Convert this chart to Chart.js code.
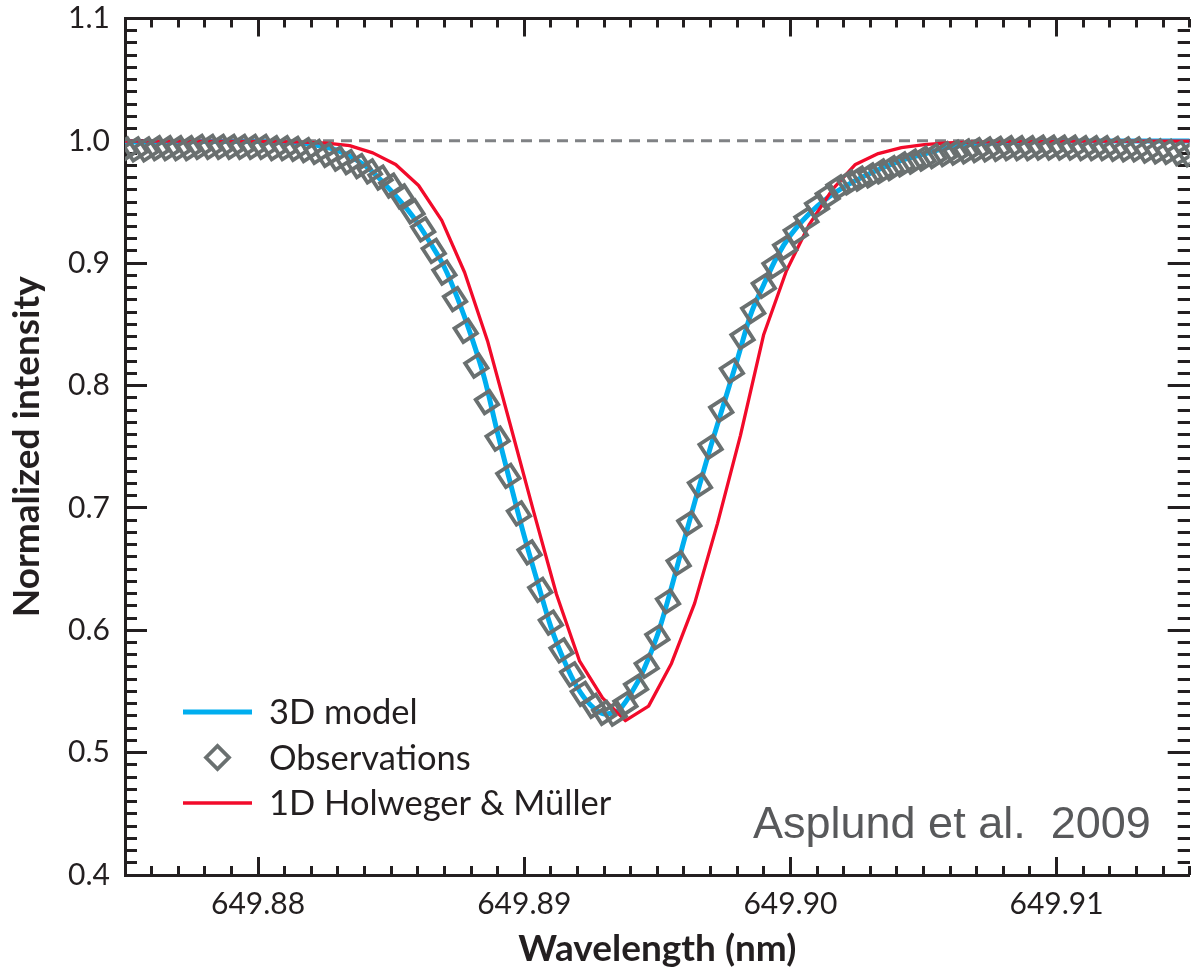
<!DOCTYPE html>
<html>
<head>
<meta charset="utf-8">
<title>Fe I 649.9 nm line profile</title>
<script src="https://cdn.jsdelivr.net/npm/chart.js@4.4.1/dist/chart.umd.min.js"></script>
<style>
  html, body { margin: 0; padding: 0; background: #ffffff; overflow: hidden; }
  canvas { display: block; }
</style>
</head>
<body>
<canvas id="lineChart" width="1205" height="968"></canvas>
<script>
// observed profile (diamonds), one point every 0.4 pm
const obsWavelength = [
    649.8750, 649.8754, 649.8758, 649.8762, 649.8766, 649.8770, 649.8774, 649.8778, 649.8782, 649.8786,
    649.8790, 649.8794, 649.8798, 649.8802, 649.8806, 649.8810, 649.8814, 649.8818, 649.8822, 649.8826,
    649.8830, 649.8834, 649.8838, 649.8842, 649.8846, 649.8850, 649.8854, 649.8858, 649.8862, 649.8866,
    649.8870, 649.8874, 649.8878, 649.8882, 649.8886, 649.8890, 649.8894, 649.8898, 649.8902, 649.8906,
    649.8910, 649.8914, 649.8918, 649.8922, 649.8926, 649.8930, 649.8934, 649.8938, 649.8942, 649.8946,
    649.8950, 649.8954, 649.8958, 649.8962, 649.8966, 649.8970, 649.8974, 649.8978, 649.8982, 649.8986,
    649.8990, 649.8994, 649.8998, 649.9002, 649.9006, 649.9010, 649.9014, 649.9018, 649.9022, 649.9026,
    649.9030, 649.9034, 649.9038, 649.9042, 649.9046, 649.9050, 649.9054, 649.9058, 649.9062, 649.9066,
    649.9070, 649.9074, 649.9078, 649.9082, 649.9086, 649.9090, 649.9094, 649.9098, 649.9102, 649.9106,
    649.9110, 649.9114, 649.9118, 649.9122, 649.9126, 649.9130, 649.9134, 649.9138, 649.9142, 649.9146,
    649.9150
];
const obsIntensity = [
    0.993, 0.993, 0.993, 0.994, 0.994, 0.994, 0.994, 0.995, 0.995, 0.995,
    0.995, 0.995, 0.995, 0.995, 0.994, 0.994, 0.9935, 0.9925, 0.991, 0.9885,
    0.9855, 0.9827, 0.9794, 0.975, 0.970, 0.9635, 0.9546, 0.9424, 0.9277, 0.910,
    0.8924, 0.8707, 0.8448, 0.8163, 0.7865, 0.7566, 0.7262, 0.6955, 0.6637, 0.633,
    0.6063, 0.5835, 0.564, 0.548, 0.5383, 0.5326, 0.5318, 0.5399, 0.5538, 0.5709,
    0.5945, 0.6236, 0.6548, 0.6874, 0.7186, 0.7499, 0.7802, 0.812, 0.8395, 0.8611,
    0.8815, 0.8978, 0.9128, 0.925, 0.9358, 0.9467, 0.9548, 0.9619, 0.966, 0.9692,
    0.9717, 0.975, 0.9778, 0.9807, 0.9831, 0.9855, 0.9876, 0.9892, 0.9904, 0.9915,
    0.9925, 0.993, 0.9935, 0.994, 0.994, 0.994, 0.9945, 0.9945, 0.9945, 0.9945,
    0.994, 0.994, 0.994, 0.9935, 0.993, 0.993, 0.992, 0.9915, 0.991, 0.990,
    0.989
];

// 3D model
const modelWavelength = [
    649.8750, 649.8780, 649.8800, 649.8810, 649.8820, 649.8830, 649.8840, 649.8845, 649.8850, 649.8855,
    649.8860, 649.8865, 649.8870, 649.8875, 649.8880, 649.8885, 649.8890, 649.8895, 649.8900, 649.8905,
    649.8910, 649.8915, 649.8920, 649.8925, 649.8930, 649.8935, 649.8940, 649.8945, 649.8950, 649.8955,
    649.8960, 649.8965, 649.8970, 649.8975, 649.8980, 649.8985, 649.8990, 649.8995, 649.9000, 649.9010,
    649.9020, 649.9030, 649.9040, 649.9050, 649.9060, 649.9080, 649.9100, 649.9120, 649.9150
];
const modelIntensity = [
    0.9990, 0.9994, 0.9994, 0.9988, 0.9972, 0.9920, 0.9800, 0.9705, 0.9591, 0.9468,
    0.9326, 0.9155, 0.8967, 0.8710, 0.8409, 0.8063, 0.7610, 0.7185, 0.6769, 0.6393,
    0.6028, 0.5751, 0.5530, 0.5387, 0.5316, 0.5339, 0.5479, 0.5684, 0.5959, 0.6326,
    0.6730, 0.7123, 0.7499, 0.7853, 0.8210, 0.8576, 0.8826, 0.9055, 0.9228, 0.9464,
    0.9621, 0.9736, 0.9827, 0.9891, 0.9949, 0.9987, 0.9996, 0.9998, 0.9998
];

// 1D Holweger & Mueller model (coarse grid, straight segments)
const hmWavelength = [
    649.8750, 649.8774, 649.8800, 649.88085, 649.88172, 649.88258, 649.88344, 649.88431, 649.88517, 649.88603,
    649.88690, 649.88776, 649.88862, 649.88949, 649.89035, 649.89121, 649.89208, 649.89294, 649.89380, 649.89467,
    649.89553, 649.89640, 649.89726, 649.89812, 649.89899, 649.89985, 649.90071, 649.90158, 649.90244, 649.90330,
    649.90417, 649.90503, 649.90589, 649.90676, 649.90849, 649.91108, 649.9150
];
const hmIntensity = [
    0.9998, 0.9998, 0.9996, 0.9994, 0.9990, 0.9982, 0.9961, 0.9902, 0.9807, 0.9635,
    0.9350, 0.8924, 0.8365, 0.7668, 0.6972, 0.6295, 0.5747, 0.5448, 0.5261, 0.5380,
    0.5729, 0.6220, 0.6874, 0.7591, 0.8413, 0.8939, 0.9318, 0.9603, 0.9807, 0.9896,
    0.9945, 0.9969, 0.9983, 0.9990, 0.9995, 0.9997, 0.9997
];

// continuum reference line
const continuumWavelength = [649.875, 649.915];
const continuumIntensity = [1.0, 1.0];

// axes
const xRange = [649.875, 649.915];
const yRange = [0.4, 1.1];
const xMajorTicks = [649.88, 649.89, 649.90, 649.91];
const yMajorTicks = [0.4, 0.5, 0.6, 0.7, 0.8, 0.9, 1.0, 1.1];
const xTitle = 'Wavelength (nm)';
const yTitle = 'Normalized intensity';
const creditText = 'Asplund et al.  2009';

const axisColor = '#231f20';
const fontFamily = 'Lato, "Open Sans", sans-serif';

// minor tick positions
const xMinorTicks = [];
for (let i = 0; i <= 40; i++) xMinorTicks.push(+(xRange[0] + i * 0.001).toFixed(3));
const yMinorTicks = [];
for (let i = 0; i <= 70; i++) yMinorTicks.push(+(yRange[0] + i * 0.01).toFixed(2));

function toPoints(xs, ys) {
    return xs.map((x, i) => ({ x: x, y: ys[i] }));
}

// build an axis (major or minor, any side); ticks point into the plot
function makeAxis(axis, position, opts) {
    const isX = axis === 'x';
    const range = isX ? xRange : yRange;
    const tickList = opts.ticks;
    return {
        type: 'linear',
        axis: axis,
        position: position,
        min: range[0],
        max: range[1],
        weight: opts.weight || 0,
        afterBuildTicks: s => { s.ticks = tickList.map(v => ({ value: v })); },
        afterFit: s => {
            if (isX) s.height = opts.size || 0;
            else s.width = opts.size || 0;
            // labels must not push the plot area around
            s.paddingTop = 0;
            s.paddingBottom = 0;
            s.paddingLeft = 0;
            s.paddingRight = 0;
        },
        border: { display: !!opts.border, color: axisColor, width: 3 },
        grid: {
            drawOnChartArea: false,
            drawTicks: true,
            tickLength: -opts.tickLength,
            tickWidth: 3,
            tickColor: axisColor
        },
        ticks: opts.labels ? {
            display: true,
            autoSkip: false,
            maxRotation: 0,
            padding: opts.labelPadding,
            color: axisColor,
            font: { family: fontFamily, size: 30, lineHeight: 1.2 },
            callback: v => isX ? v.toFixed(2) : v.toFixed(1)
        } : { display: false },
        title: opts.title ? {
            display: true,
            text: opts.title,
            color: axisColor,
            font: { family: fontFamily, size: 37, weight: 'bold', lineHeight: 1 },
            padding: opts.titlePadding
        } : { display: false }
    };
}

// legend in the lower left corner of the plot
const cornerLegend = {
    id: 'cornerLegend',
    afterDatasetsDraw(chart) {
        const ctx = chart.ctx;
        const area = chart.chartArea;
        const items = chart.data.datasets.filter(d => d.inLegend);
        ctx.save();
        items.forEach((ds, i) => {
            const y = area.bottom - 163 + i * 45.5;
            const x0 = area.left + 58;
            const x1 = area.left + 127;
            if (ds.showLine) {
                ctx.strokeStyle = ds.borderColor;
                ctx.lineWidth = ds.borderWidth;
                ctx.beginPath();
                ctx.moveTo(x0, y);
                ctx.lineTo(x1, y);
                ctx.stroke();
            } else {
                const cx = (x0 + x1) / 2;
                const r = 11.5;
                ctx.strokeStyle = ds.borderColor;
                ctx.lineWidth = 3.8;
                ctx.beginPath();
                ctx.moveTo(cx - r, y);
                ctx.lineTo(cx, y - r);
                ctx.lineTo(cx + r, y);
                ctx.lineTo(cx, y + r);
                ctx.closePath();
                ctx.stroke();
            }
            ctx.fillStyle = axisColor;
            ctx.font = '34.5px ' + fontFamily;
            ctx.textBaseline = 'middle';
            ctx.textAlign = 'left';
            ctx.fillText(ds.label, area.left + 144, y + 1);
        });
        ctx.restore();
    }
};

// reference note in the lower right corner
const creditNote = {
    id: 'creditNote',
    afterDatasetsDraw(chart) {
        const ctx = chart.ctx;
        const area = chart.chartArea;
        ctx.save();
        ctx.fillStyle = '#58595b';
        ctx.font = '45px "Liberation Sans", Arial, sans-serif';
        ctx.textAlign = 'left';
        ctx.textBaseline = 'alphabetic';
        ctx.fillText(creditText, area.left + 628, area.bottom - 37);
        ctx.restore();
    }
};

const ctx = document.getElementById('lineChart').getContext('2d');

new Chart(ctx, {
    type: 'scatter',
    data: {
        datasets: [
            {
                label: '3D model',
                inLegend: true,
                data: toPoints(modelWavelength, modelIntensity),
                showLine: true,
                borderColor: '#00aeef',
                borderWidth: 5,
                pointRadius: 0,
                cubicInterpolationMode: 'monotone',
                order: 3,
                clip: 0
            },
            {
                label: 'Observations',
                inLegend: true,
                data: toPoints(obsWavelength, obsIntensity),
                showLine: false,
                pointStyle: 'rectRot',
                pointRadius: 11.5,
                pointRotation: 12,
                pointBorderWidth: 3.8,
                borderColor: '#6a7070',
                pointBorderColor: '#6a7070',
                pointBackgroundColor: 'rgba(0,0,0,0)',
                order: 1,
                clip: 0
            },
            {
                label: '1D Holweger & Müller',
                inLegend: true,
                data: toPoints(hmWavelength, hmIntensity),
                showLine: true,
                borderColor: '#f20a2a',
                borderWidth: 3.3,
                borderJoinStyle: 'round',
                pointRadius: 0,
                tension: 0,
                order: 2,
                clip: 0
            },
            {
                label: 'continuum',
                inLegend: false,
                data: toPoints(continuumWavelength, continuumIntensity),
                showLine: true,
                borderColor: '#808285',
                borderWidth: 3,
                borderDash: [11, 7],
                pointRadius: 0,
                order: 4,
                clip: 0
            }
        ]
    },
    options: {
        responsive: false,
        devicePixelRatio: 1,
        animation: false,
        events: [],
        layout: { padding: { top: 18.5, left: 0, right: 0, bottom: 0 } },
        plugins: {
            legend: { display: false },
            tooltip: { enabled: false }
        },
        scales: {
            x: makeAxis('x', 'bottom', {
                ticks: xMajorTicks, weight: 1, size: 93, border: true, tickLength: 18,
                labels: true, labelPadding: 29.5, title: xTitle, titlePadding: { top: 0, bottom: 0 }
            }),
            xMinor: makeAxis('x', 'bottom', { ticks: xMinorTicks, weight: 0, size: 0, tickLength: 9 }),
            xTop: makeAxis('x', 'top', { ticks: xMajorTicks, weight: 1, size: 0, border: true, tickLength: 18 }),
            xTopMinor: makeAxis('x', 'top', { ticks: xMinorTicks, weight: 0, size: 0, tickLength: 9 }),
            y: makeAxis('y', 'left', {
                ticks: yMajorTicks, weight: 1, size: 125, border: true, tickLength: 22,
                labels: true, labelPadding: 37, title: yTitle, titlePadding: { top: 8.5, bottom: 0 }
            }),
            yMinor: makeAxis('y', 'left', { ticks: yMinorTicks, weight: 0, size: 0, tickLength: 12 }),
            yRight: makeAxis('y', 'right', { ticks: yMajorTicks, weight: 0, size: 0, tickLength: 22 }),
            yRightMinor: makeAxis('y', 'right', { ticks: yMinorTicks, weight: 1, size: 0, tickLength: 12 })
        }
    },
    plugins: [cornerLegend, creditNote]
});
</script>
</body>
</html>
